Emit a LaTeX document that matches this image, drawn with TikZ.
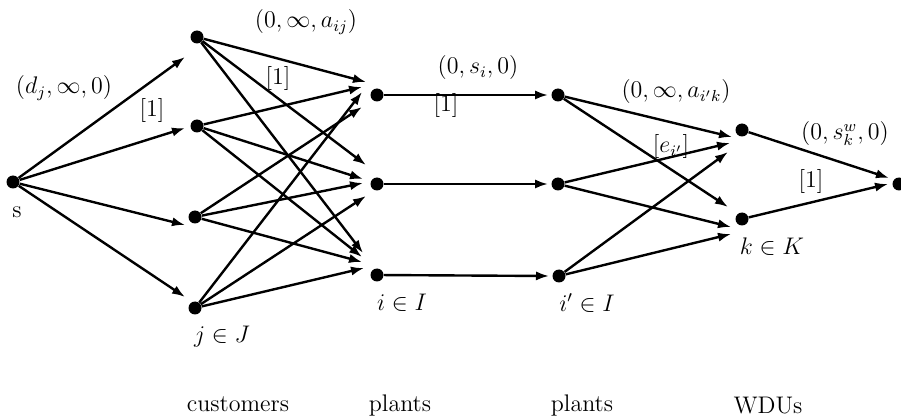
\documentclass[tikz,border=0pt]{standalone}
\usetikzlibrary{arrows.meta}
\begin{document}
\begin{tikzpicture}[x=0.5pt,y=-0.5pt,
  dot/.style={circle,fill=black,inner sep=0pt,minimum size=6.5pt},
  arr/.style={line width=1.2pt,-{Latex[length=6.5pt,width=4.6pt]}},
  lab/.style={font=\fontsize{12}{14}\selectfont,inner sep=0pt}]
\useasboundingbox (0,0) rectangle (901,417);
% nodes
\node[dot] (s) at (13,182) {};
\node[dot] (c1) at (197,37) {};
\node[dot] (c2) at (197,126) {};
\node[dot] (c3) at (195,217) {};
\node[dot] (c4) at (195,308) {};
\node[dot] (p1) at (377,95) {};
\node[dot] (p2) at (377,184) {};
\node[dot] (p3) at (377,275) {};
\node[dot] (q1) at (558,95) {};
\node[dot] (q2) at (558,184) {};
\node[dot] (q3) at (559,276) {};
\node[dot] (w1) at (742,130) {};
\node[dot] (w2) at (742,219) {};
\node[dot] (t) at (899,184) {};
% arrow tip coordinates
\coordinate (sc1) at (185,57);
\coordinate (sc2) at (185,128);
\coordinate (sc3) at (185,225);
\coordinate (sc4) at (185,297);
\coordinate (c1p1) at (366,82);
\coordinate (c2p1) at (362,87);
\coordinate (c4p1) at (362,92);
\coordinate (c3p1) at (362,107);
\coordinate (c1p2) at (366,165);
\coordinate (c2p2) at (363,179);
\coordinate (c3p2) at (363,183);
\coordinate (c4p2) at (366,196);
\coordinate (c1p3) at (363,253);
\coordinate (c2p3) at (362,257);
\coordinate (c3p3) at (362,262);
\coordinate (c4p3) at (364,268);
\coordinate (pq1) at (548,95);
\coordinate (pq2) at (548,184);
\coordinate (pq3) at (549,276);
\coordinate (q1w1) at (732,137);
\coordinate (q2w1) at (730,143);
\coordinate (q3w1) at (728,152);
\coordinate (q1w2) at (728,207);
\coordinate (q2w2) at (731,227);
\coordinate (q3w2) at (731,234);
\coordinate (w1t) at (889,178);
\coordinate (w2t) at (888,184);
% connectors
\draw[arr] (s) -- (sc1);
\draw[arr] (s) -- (sc2);
\draw[arr] (s) -- (sc3);
\draw[arr] (s) -- (sc4);
\draw[arr] (c1) -- (c1p1);
\draw[arr] (c1) -- (c1p2);
\draw[arr] (c1) -- (c1p3);
\draw[arr] (c2) -- (c2p1);
\draw[arr] (c2) -- (c2p2);
\draw[arr] (c2) -- (c2p3);
\draw[arr] (c3) -- (c3p1);
\draw[arr] (c3) -- (c3p2);
\draw[arr] (c3) -- (c3p3);
\draw[arr] (c4) -- (c4p1);
\draw[arr] (c4) -- (c4p2);
\draw[arr] (c4) -- (c4p3);
\draw[arr] (p1) -- (pq1);
\draw[arr] (p2) -- (pq2);
\draw[arr] (p3) -- (pq3);
\draw[arr] (q1) -- (q1w1);
\draw[arr] (q2) -- (q2w1);
\draw[arr] (q3) -- (q3w1);
\draw[arr] (q1) -- (q1w2);
\draw[arr] (q2) -- (q2w2);
\draw[arr] (q3) -- (q3w2);
\draw[arr] (w1) -- (w1t);
\draw[arr] (w2) -- (w2t);
% labels
\node[lab] (l1) at (64,88) {$(d_j,\infty,0)$};
\node[lab] (l2) at (152,111) {$[1]$};
\node[lab] (l3) at (306,22) {$(0,\infty,a_{ij})$};
\node[lab] (l4) at (278,79) {$[1]$};
\node[lab] (l5) at (478,68) {$(0,s_i,0)$};
\node[lab] (l6) at (446,106) {$[1]$};
\node[lab] (l7) at (676,92) {$(0,\infty,a_{i'k})$};
\node[lab] (l8) at (671,147) {$[e_{i'}]$};
\node[lab] (l9) at (845,134) {$(0,s^w_k,0)$};
\node[lab] (l10) at (811,182) {$[1]$};
\node[lab] (ls) at (17,212) {s};
\node[lab] (lj) at (222,337) {$j\in J$};
\node[lab] (li) at (402,303) {$i\in I$};
\node[lab] (li2) at (587,303) {$i'\in I$};
\node[lab] (lk) at (772,247) {$k\in K$};
\node[lab] (b1) at (238,404) {customers};
\node[lab] (b2) at (400,405) {plants};
\node[lab] (b3) at (582,405) {plants};
\node[lab] (b4) at (768,406) {WDUs};
\end{tikzpicture}
\end{document}
